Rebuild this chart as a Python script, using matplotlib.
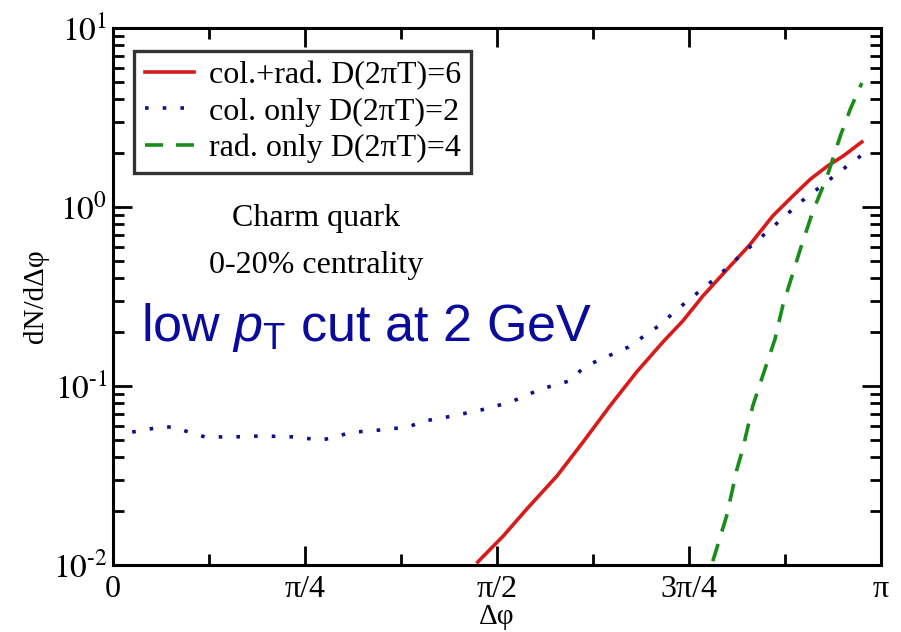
import numpy as np
import matplotlib
matplotlib.use("Agg")
import matplotlib.pyplot as plt
from matplotlib.ticker import FixedLocator, LogLocator, NullFormatter

# ---------- Data (x in units of pi) ----------

col_x = [0.025, 0.0625, 0.079, 0.100, 0.120, 0.159, 0.195, 0.233, 0.272, 0.290,
         0.309, 0.348, 0.384, 0.405, 0.439, 0.479, 0.518, 0.557, 0.594, 0.615,
         0.671, 0.710, 0.746, 0.785, 0.822, 0.859, 0.897, 0.954, 0.975]
col_y = [0.0553, 0.0590, 0.0590, 0.0550, 0.0519, 0.0520, 0.0526, 0.0520, 0.0499, 0.0520,
         0.0550, 0.0568, 0.0590, 0.0637, 0.0676, 0.0734, 0.0814, 0.0961, 0.1067, 0.129,
         0.165, 0.216, 0.294, 0.401, 0.561, 0.773, 1.08, 1.67, 1.95]

colrad_x = [0.475, 0.508, 0.539, 0.578, 0.612, 0.647, 0.682, 0.716, 0.742, 0.768,
            0.799, 0.829, 0.859, 0.885, 0.908, 0.930, 0.951, 0.975]
colrad_y = [0.0104, 0.0145, 0.0206, 0.0314, 0.0486, 0.0773, 0.120, 0.176, 0.231, 0.318,
            0.445, 0.614, 0.891, 1.15, 1.43, 1.69, 1.93, 2.31]

rad_x = [0.781, 0.799, 0.8125, 0.820, 0.833, 0.846, 0.862, 0.872, 0.895, 0.911,
         0.930, 0.947, 0.960, 0.975]
rad_y = [0.0105, 0.0188, 0.0344, 0.0445, 0.0773, 0.114, 0.183, 0.280, 0.582, 0.938,
         1.49, 2.49, 3.52, 4.93]

xtick_vals = [0, 0.25, 0.5, 0.75, 1.0]
xtick_labels = ["0", "\u03c0/4", "\u03c0/2", "3\u03c0/4", "\u03c0"]
ytick_vals = [1e-2, 1e-1, 1e0, 1e1]
ytick_labels = ["$10^{\u2010 2}$", "$10^{\u2010 1}$", "$10^{0}$", "$10^{1}$"]


def main():
    plt.rcParams["font.family"] = ["Liberation Serif", "DejaVu Serif"]
    plt.rcParams["mathtext.fontset"] = "stix"
    plt.rcParams["mathtext.rm"] = "Liberation Sans"
    plt.rcParams["mathtext.it"] = "Liberation Sans:italic"

    fig = plt.figure(figsize=(9.01, 6.32), dpi=100)
    ax = fig.add_axes([0.1254, 0.106, 0.8524, 0.8497])

    pi = np.pi
    ax.plot(np.array(colrad_x) * pi, colrad_y, color="#d91a1a", lw=2.6,
            label="col.+rad. D(2\u03c0T)=6")
    ax.plot(np.array(col_x) * pi, col_y, color="#10108a", lw=2.6,
            linestyle=(0, (1, 3.9)), dash_capstyle="butt",
            label="col. only D(2\u03c0T)=2")
    ax.plot(np.array(rad_x) * pi, rad_y, color="#1a8c1a", lw=2.6,
            linestyle=(0, (5.0, 3.6)), dash_capstyle="butt",
            label="rad. only D(2\u03c0T)=4")

    ax.set_yscale("log")
    ax.set_xlim(0, pi)
    ax.set_ylim(1e-2, 1e1)

    ax.xaxis.set_major_locator(FixedLocator([v * pi for v in xtick_vals]))
    ax.set_xticklabels(xtick_labels, fontsize=23)
    ax.xaxis.set_minor_locator(FixedLocator([v * pi for v in np.arange(0.125, 1.0, 0.25)]))
    ax.set_yticks(ytick_vals)
    ax.set_yticklabels(ytick_labels, fontsize=24)
    ax.yaxis.set_minor_locator(LogLocator(base=10, subs=np.arange(2, 10)))
    ax.yaxis.set_minor_formatter(NullFormatter())

    ax.tick_params(which="both", direction="in", top=True, right=True, width=2)
    ax.tick_params(which="major", length=14)
    ax.tick_params(which="minor", length=8)
    ax.tick_params(axis="x", which="major", pad=7)
    ax.tick_params(axis="y", which="major", pad=4)
    for sp in ax.spines.values():
        sp.set_linewidth(2.2)

    ax.set_xlabel("\u0394\u03c6", fontsize=21, labelpad=0)
    ax.set_ylabel("dN/d\u0394\u03c6", fontsize=21, labelpad=3)

    leg = ax.legend(loc="upper left", bbox_to_anchor=(0.028, 0.958), fontsize=23,
                    frameon=True, fancybox=False, edgecolor="black",
                    handlelength=1.55, handletextpad=0.45, borderpad=0.32,
                    labelspacing=0.22, borderaxespad=0)
    leg.get_frame().set_linewidth(2.4)

    ax.text(0.264, 0.645, "Charm quark", transform=ax.transAxes,
            ha="center", va="center", fontsize=23)
    ax.text(0.264, 0.558, "0-20% centrality", transform=ax.transAxes,
            ha="center", va="center", fontsize=23)
    ax.text(0.037, 0.418, r"low $\mathit{p}_{\mathrm{T}}$ cut at 2 GeV",
            transform=ax.transAxes, ha="left", va="baseline", fontsize=37.5,
            color="#0a0a9c", family="Liberation Sans", math_fontfamily="custom")

    fig.savefig("out.png", dpi=100)
    plt.close(fig)


if __name__ == "__main__":
    main()
